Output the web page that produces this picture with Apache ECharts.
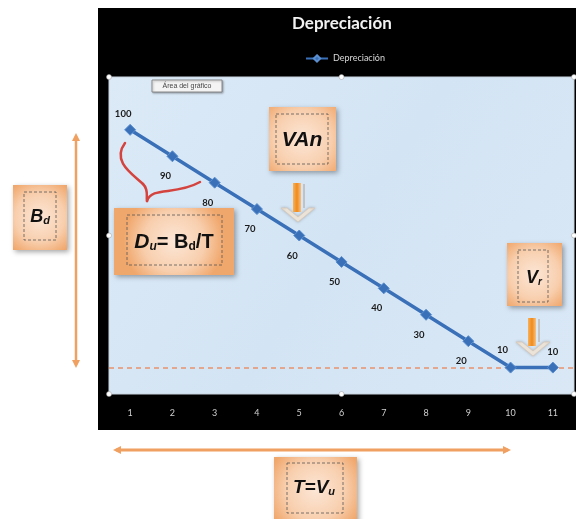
<!DOCTYPE html>
<html><head><meta charset="utf-8">
<script src="https://cdn.jsdelivr.net/npm/echarts@6/dist/echarts.min.js"></script>
<style>html,body{margin:0;padding:0;background:#fff}#c{width:576px;height:519px}</style>
</head><body><div id="c"></div>
<script>
const categories = ['1','2','3','4','5','6','7','8','9','10','11'];
const values = [100, 90, 80, 70, 60, 50, 40, 30, 20, 10, 10];
const seriesName = 'Depreciación';
const chartTitle = 'Depreciación';
const residualValue = 10;

const G = {left: 109, top: 77, right: 574, bottom: 394};

function labelFor(i) {
  const base = {show: true, color: '#1a1a1a', fontSize: 9.5, fontWeight: 'bold', fontFamily: 'Lato'};
  if (i === 0) return Object.assign(base, {position: 'top', offset: [-7, 0]});
  if (i === values.length - 2) return Object.assign(base, {position: 'top', offset: [-8, -2]});
  if (i === values.length - 1) return Object.assign(base, {position: 'top', offset: [0, 0]});
  return Object.assign(base, {position: 'bottom', distance: 9, offset: [-7, 0]});
}

function box(x, y, w, h, ix, iy, iw, ih, textEl) {
  return {
    type: 'group', children: [
      {type: 'rect', shape: {x: x, y: y, width: w, height: h},
       style: {fill: {type: 'radial', x: 0.5, y: 0.5, r: 0.75,
         colorStops: [{offset: 0, color: '#fce6d6'}, {offset: 0.6, color: '#f8cfae'}, {offset: 1, color: '#f0a76c'}]},
         shadowBlur: 5, shadowColor: 'rgba(0,0,0,0.35)', shadowOffsetX: 2, shadowOffsetY: 2}},
      {type: 'rect', shape: {x: ix, y: iy, width: iw, height: ih},
       style: {fill: 'none', stroke: '#555', lineWidth: 0.8, lineDash: [3, 2]}},
      textEl
    ]
  };
}

function downArrow(cx, top, bottom) {
  return {type: 'group', children: [
    {type: 'polygon', shape: {points: [[cx - 17, bottom - 14], [cx, bottom], [cx + 17, bottom - 14], [cx + 11, bottom - 14], [cx, bottom - 5], [cx - 11, bottom - 14]]},
     style: {fill: '#f3eadf', stroke: '#d8c8b8', lineWidth: 0.8, shadowBlur: 3, shadowColor: 'rgba(0,0,0,0.2)'}},
    {type: 'rect', shape: {x: cx - 5, y: top, width: 8, height: bottom - top - 10},
     style: {fill: {type: 'linear', x: 0, y: 0, x2: 1, y2: 0, colorStops: [{offset: 0, color: '#f7b25a'}, {offset: 0.5, color: '#f08a1c'}, {offset: 1, color: '#f7c080'}]}}},
    {type: 'line', shape: {x1: cx + 6, y1: top + 1, x2: cx + 6, y2: bottom - 14}, style: {stroke: '#b0a090', lineWidth: 1}}
  ]};
}

function dblArrowH(x1, x2, y) {
  const c = '#f0a060';
  return {type: 'group', children: [
    {type: 'line', shape: {x1: x1 + 3, y1: y, x2: x2 - 3, y2: y}, style: {stroke: c, lineWidth: 3}},
    {type: 'polygon', shape: {points: [[x1, y], [x1 + 8, y - 4], [x1 + 8, y + 4]]}, style: {fill: c}},
    {type: 'polygon', shape: {points: [[x2, y], [x2 - 8, y - 4], [x2 - 8, y + 4]]}, style: {fill: c}}
  ]};
}
function dblArrowV(x, y1, y2) {
  const c = '#f0a060';
  return {type: 'group', children: [
    {type: 'line', shape: {x1: x, y1: y1 + 3, x2: x, y2: y2 - 3}, style: {stroke: c, lineWidth: 2.5}},
    {type: 'polygon', shape: {points: [[x, y1], [x - 4, y1 + 8], [x + 4, y1 + 8]]}, style: {fill: c}},
    {type: 'polygon', shape: {points: [[x, y2], [x - 4, y2 - 8], [x + 4, y2 - 8]]}, style: {fill: c}}
  ]};
}

const boxFont = 'Liberation Sans';
const handles = [[G.left, G.top], [(G.left + G.right) / 2, G.top], [G.right, G.top],
  [G.left, (G.top + G.bottom) / 2], [G.right, (G.top + G.bottom) / 2],
  [G.left, G.bottom], [(G.left + G.right) / 2, G.bottom], [G.right, G.bottom]];

const braceStyle = {fill: 'none', stroke: '#d4433e', lineWidth: 2.5, lineCap: 'round'};
const dashStyle = {color: '#e8916e', type: [5, 4], width: 1.5, opacity: 1};

const chart = echarts.init(document.getElementById('c'));
chart.setOption({
  backgroundColor: '#ffffff',
  animation: false,
  title: {text: chartTitle, left: 287, top: 10,
    textStyle: {color: '#f2f2f2', fontSize: 17, fontWeight: 'bold', fontFamily: 'Lato'}},
  legend: {data: [seriesName], left: 300, top: 49, itemWidth: 22, itemHeight: 8, itemGap: 4,
    textStyle: {color: '#d8d8d8', fontSize: 9, fontFamily: 'Lato'}},
  grid: {left: G.left, top: G.top, width: G.right - G.left, height: G.bottom - G.top, show: true,
    backgroundColor: {type: 'linear', x: 0, y: 0, x2: 1, y2: 1, colorStops: [{offset: 0, color: '#dceaf7'}, {offset: 0.5, color: '#d3e4f4'}, {offset: 1, color: '#dae8f6'}]},
    borderColor: '#c8d4e0', borderWidth: 1},
  xAxis: {type: 'category', data: categories, boundaryGap: true,
    axisLine: {show: false}, axisTick: {show: false},
    axisLabel: {color: '#cfcfcf', fontSize: 9, margin: 15, fontFamily: 'Lato'}},
  yAxis: {type: 'value', min: 0, max: 120, show: false, splitLine: {show: false}},
  series: [{
    name: seriesName, type: 'line', data: values.map((v, i) => ({value: v, label: labelFor(i)})),
    symbol: 'diamond', symbolSize: 11,
    lineStyle: {color: '#3a70b8', width: 3.5},
    itemStyle: {color: '#3a70b8', borderColor: '#5a8fd0', borderWidth: 1},
    markLine: {silent: true, symbol: 'none', label: {show: false}, z: 1,
      lineStyle: dashStyle,
      emphasis: {disabled: true},
      data: [{yAxis: residualValue, lineStyle: dashStyle}]}
  }],
  graphic: {elements: [
    {type: 'rect', z: -10, silent: true, shape: {x: 98, y: 8, width: 478, height: 422}, style: {fill: '#000'}},
    ...handles.map(p => ({type: 'circle', z: 10, shape: {cx: p[0], cy: p[1], r: 2.5}, style: {fill: '#fff', stroke: '#999', lineWidth: 0.5}})),
    {type: 'group', z: 10, children: [
      {type: 'rect', shape: {x: 152, y: 80, width: 70, height: 12}, style: {fill: '#f4f4f4', stroke: '#777', lineWidth: 0.8, shadowBlur: 2, shadowColor: 'rgba(0,0,0,0.3)', shadowOffsetX: 1, shadowOffsetY: 1}},
      {type: 'text', style: {x: 187, y: 86, text: 'Área del gráfico', fill: '#444', fontSize: 7, fontFamily: 'Liberation Sans', align: 'center', verticalAlign: 'middle'}}
    ]},
    {type: 'bezierCurve', z: 10, shape: {x1: 125, y1: 143, cpx1: 111, cpy1: 162, cpx2: 134, cpy2: 175, x2: 143, y2: 184}, style: braceStyle},
    {type: 'bezierCurve', z: 10, shape: {x1: 143, y1: 184, cpx1: 149, cpy1: 190, cpx2: 146, cpy2: 196, x2: 147, y2: 201}, style: braceStyle},
    {type: 'bezierCurve', z: 10, shape: {x1: 147, y1: 201, cpx1: 152, cpy1: 186, cpx2: 175, cpy2: 196, x2: 200, y2: 182}, style: braceStyle},
    Object.assign(box(269, 107, 67, 64, 276, 114, 52, 50,
      {type: 'text', style: {x: 302, y: 140, text: 'VAn', fill: '#111', fontSize: 21, fontWeight: 'bold', fontStyle: 'italic', fontFamily: boxFont, align: 'center', verticalAlign: 'middle'}}), {z: 10}),
    Object.assign(box(114, 208, 120, 67, 127, 215, 95, 50,
      {type: 'text', style: {x: 174, y: 242, text: '{i|D}{si|u}{b|= B}{sb|d}{b|/T}', align: 'center', verticalAlign: 'middle',
        rich: {i: {fontSize: 21, fontWeight: 'bold', fontStyle: 'italic', fontFamily: boxFont, fill: '#111'},
               si: {fontSize: 12, fontWeight: 'bold', fontStyle: 'italic', fontFamily: boxFont, fill: '#111', padding: [10, 0, 0, 0]},
               b: {fontSize: 20, fontWeight: 'bold', fontFamily: boxFont, fill: '#111'},
               sb: {fontSize: 12, fontWeight: 'bold', fontFamily: boxFont, fill: '#111', padding: [10, 0, 0, 0]}}}}), {z: 10}),
    Object.assign(box(507, 243, 55, 63, 518, 250, 30, 52,
      {type: 'text', style: {x: 534, y: 278, text: '{i|V}{s|r}', align: 'center', verticalAlign: 'middle',
        rich: {i: {fontSize: 18, fontWeight: 'bold', fontStyle: 'italic', fontFamily: boxFont, fill: '#111'},
               s: {fontSize: 10, fontWeight: 'bold', fontStyle: 'italic', fontFamily: boxFont, fill: '#111', padding: [8, 0, 0, 0]}}}}), {z: 10}),
    box(13, 185, 54, 65, 24, 192, 32, 48,
      {type: 'text', style: {x: 40, y: 217, text: '{i|B}{s|d}', align: 'center', verticalAlign: 'middle',
        rich: {i: {fontSize: 18, fontWeight: 'bold', fontStyle: 'italic', fontFamily: boxFont, fill: '#111'},
               s: {fontSize: 11, fontWeight: 'bold', fontStyle: 'italic', fontFamily: boxFont, fill: '#111', padding: [8, 0, 0, 0]}}}}),
    box(274, 457, 83, 66, 287, 463, 56, 50,
      {type: 'text', style: {x: 314, y: 488, text: '{i|T=V}{s|u}', align: 'center', verticalAlign: 'middle',
        rich: {i: {fontSize: 19, fontWeight: 'bold', fontStyle: 'italic', fontFamily: boxFont, fill: '#111'},
               s: {fontSize: 11, fontWeight: 'bold', fontStyle: 'italic', fontFamily: boxFont, fill: '#111', padding: [8, 0, 0, 0]}}}}),
    Object.assign(downArrow(298, 183, 222), {z: 10}),
    Object.assign(downArrow(533, 318, 356), {z: 10}),
    dblArrowV(76, 133, 368),
    dblArrowH(113, 511, 450)
  ]}
});
</script></body></html>
